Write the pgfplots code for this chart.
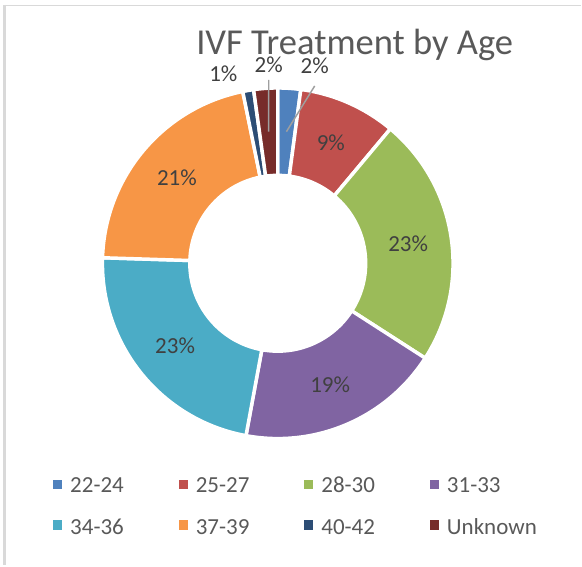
\documentclass[border=0pt]{standalone}
\usepackage{pgfplots}
\usepackage{pgfplotstable}
\pgfplotsset{compat=1.18}
\usepackage{fontspec}
\setmainfont{Carlito}

\definecolor{s1}{HTML}{4F81BD}
\definecolor{s2}{HTML}{C0504D}
\definecolor{s3}{HTML}{9BBB59}
\definecolor{s4}{HTML}{8064A2}
\definecolor{s5}{HTML}{4BACC6}
\definecolor{s6}{HTML}{F79646}
\definecolor{s7}{HTML}{2C4D75}
\definecolor{s8}{HTML}{772C2A}
\definecolor{txt}{HTML}{595959}
\definecolor{lbl}{HTML}{404040}
\definecolor{frame}{HTML}{D9D9D9}

% share of patients by age group (percent); lx/ly = outside label, sx/sy = leader start
\pgfplotstableread[col sep=comma]{
label,value,color,lx,ly,sx,sy
22-24,2.1,s1,315,66,315,86
25-27,9.0,s2,0,0,0,0
28-30,23.0,s3,0,0,0,0
31-33,18.8,s4,0,0,0,0
34-36,22.6,s5,0,0,0,0
37-39,21.3,s6,0,0,0,0
40-42,1.0,s7,223.5,74,0,0
Unknown,2.2,s8,269,65,269,80
}\agedata

\begin{document}
\begin{tikzpicture}
\begin{axis}[
  width=436.5pt, height=424.5pt, scale only axis,
  xmin=0, xmax=582, ymin=0, ymax=566, y dir=reverse,
  hide axis, clip=false]
\pgfplotsextra{
  \path (axis cs:0,0) rectangle (axis cs:582,566);
  \draw[frame, line width=0.8pt] (axis cs:4,5.5) -- (axis cs:582,5.5);
  \draw[frame, line width=2pt] (axis cs:4.5,5) -- (axis cs:4.5,566);
  \node[anchor=base, inner sep=0, font=\fontsize{27.4}{32}\selectfont, text=txt]
    at (axis cs:355,55) {IVF Treatment by Age};
  \coordinate (C) at (axis cs:278,263.5);
  \pgfplotstablegetrowsof{\agedata}
  \pgfmathtruncatemacro\lastrow{\pgfplotsretval-1}
  % slices and legend
  \gdef\cum{0}
  \foreach \i in {0,...,\lastrow}{
    \pgfplotstablegetelem{\i}{value}\of\agedata \let\v\pgfplotsretval
    \pgfplotstablegetelem{\i}{color}\of\agedata \let\c\pgfplotsretval
    \pgfplotstablegetelem{\i}{label}\of\agedata \let\lab\pgfplotsretval
    \pgfmathsetmacro\a{90-3.6*\cum}
    \pgfmathsetmacro\b{90-3.6*(\cum+\v)}
    \filldraw[fill=\c, draw=white, line width=2.6pt]
      ([shift={(\a:131.6pt)}]C) arc[start angle=\a, end angle=\b, radius=131.6pt]
      -- ([shift={(\b:66pt)}]C) arc[start angle=\b, end angle=\a, radius=66pt] -- cycle;
    \pgfmathsetmacro\cumnew{\cum+\v}\xdef\cum{\cumnew}
    \pgfmathsetmacro\mx{57.5+125.7*mod(\i,4)}
    \pgfmathsetmacro\my{484.5+41*int(\i/4)}
    \pgfmathsetmacro\tx{\mx+12.5}
    \pgfmathsetmacro\ty{492.6+42*int(\i/4)}
    \fill[\c] ([shift={(-3.4pt,-3.4pt)}]axis cs:\mx,\my) rectangle ([shift={(3.4pt,3.4pt)}]axis cs:\mx,\my);
    \node[anchor=base west, inner sep=0, font=\fontsize{17.25}{20}\selectfont, text=txt]
      at (axis cs:\tx,\ty) {\lab};
  }
  % data labels and leader lines on top
  \gdef\cum{0}
  \foreach \i in {0,...,\lastrow}{
    \pgfplotstablegetelem{\i}{value}\of\agedata \let\v\pgfplotsretval
    \pgfplotstablegetelem{\i}{lx}\of\agedata \let\lx\pgfplotsretval
    \pgfplotstablegetelem{\i}{ly}\of\agedata \let\ly\pgfplotsretval
    \pgfplotstablegetelem{\i}{sx}\of\agedata \let\sx\pgfplotsretval
    \pgfplotstablegetelem{\i}{sy}\of\agedata \let\sy\pgfplotsretval
    \pgfmathsetmacro\m{90-3.6*(\cum+\v/2)}
    \pgfmathtruncatemacro\p{round(\v)}
    \ifdim\lx pt>0pt
      \node[inner sep=0, font=\fontsize{17.25}{20}\selectfont, text=lbl]
        at (axis cs:\lx,\ly) {\p\%};
      \ifdim\sx pt>0pt
        \draw[gray!75, line width=1.1pt] (axis cs:\sx,\sy) -- ([shift={(\m:99pt)}]C);
      \fi
    \else
      \node[inner sep=0, font=\fontsize{17.25}{20}\selectfont, text=lbl]
        at ([shift={(\m:99pt)}]C) {\p\%};
    \fi
    \pgfmathsetmacro\cumnew{\cum+\v}\xdef\cum{\cumnew}
  }
}
\end{axis}
\end{tikzpicture}
\end{document}
